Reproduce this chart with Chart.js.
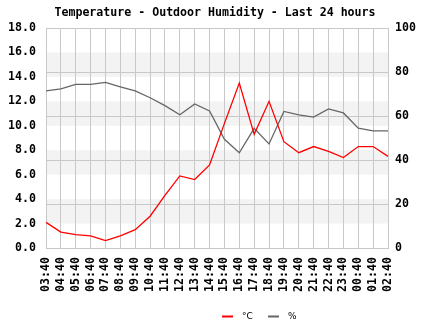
<!DOCTYPE html>
<html>
<head>
<meta charset="utf-8">
<script src="https://cdn.jsdelivr.net/npm/chart.js@4/dist/chart.umd.min.js"></script>
<style>
    body { margin: 0; background: #fff; }
    canvas { display: block; }
</style>
</head>
<body>
<canvas id="tempChart" width="430" height="330"></canvas>
<script>
// hourly samples, last 24 hours
const hours = ['03:40', '04:40', '05:40', '06:40', '07:40', '08:40', '09:40', '10:40',
    '11:40', '12:40', '13:40', '14:40', '15:40', '16:40', '17:40', '18:40', '19:40',
    '20:40', '21:40', '22:40', '23:40', '00:40', '01:40', '02:40'];

const temperature = [2.1, 1.3, 1.1, 1.0, 0.6, 1.0, 1.5, 2.6, 4.3, 5.9, 5.6, 6.8,
    10.2, 13.5, 9.3, 12.0, 8.7, 7.8, 8.3, 7.9, 7.4, 8.3, 8.3, 7.5];

const humidity = [71.4, 72.3, 74.4, 74.4, 75.3, 73.3, 71.4, 68.3, 64.7, 60.6, 65.5, 62.3,
    49.4, 43.3, 54.4, 47.3, 62.1, 60.5, 59.5, 63.2, 61.4, 54.5, 53.2, 53.2];

const seriesNames = ['°C', '%'];

const fontFamily = '"DejaVu Sans Mono", "Liberation Mono", monospace';
const gridColor = '#c8c8c8';

// grey bands between every other temperature tick
const bandPlugin = {
    id: 'bands',
    beforeDraw(chart) {
        const { ctx, chartArea, scales } = chart;
        const ticks = scales.y.ticks;
        ctx.save();
        ctx.fillStyle = '#f3f3f3';
        for (let i = 1; i < ticks.length - 1; i += 2) {
            const y1 = scales.y.getPixelForValue(ticks[i].value);
            const y2 = scales.y.getPixelForValue(ticks[i + 1].value);
            ctx.fillRect(chartArea.left, y2, chartArea.right - chartArea.left, y1 - y2);
        }
        ctx.restore();
    }
};

// small legend under the plot, offset right like the original
const legendPlugin = {
    id: 'bottomLegend',
    afterDraw(chart) {
        const ctx = chart.ctx;
        const y = 316.5;
        let x = 222;
        ctx.save();
        ctx.font = '9px "DejaVu Sans", sans-serif';
        ctx.textBaseline = 'middle';
        chart.data.datasets.forEach((ds, i) => {
            ctx.strokeStyle = ds.borderColor;
            ctx.lineWidth = 2;
            ctx.beginPath();
            ctx.moveTo(x, y);
            ctx.lineTo(x + 11, y);
            ctx.stroke();
            ctx.fillStyle = '#000';
            ctx.fillText(ds.label, x + 20, y);
            x += 46;
        });
        ctx.restore();
    }
};

const ctx = document.getElementById('tempChart').getContext('2d');

new Chart(ctx, {
    type: 'line',
    data: {
        labels: hours,
        datasets: [{
            label: seriesNames[0],
            data: temperature,
            yAxisID: 'y',
            borderColor: '#ff0000',
            borderWidth: 1.3,
            pointRadius: 0,
            tension: 0
        }, {
            label: seriesNames[1],
            data: humidity,
            yAxisID: 'y2',
            borderColor: '#666666',
            borderWidth: 1.3,
            pointRadius: 0,
            tension: 0
        }]
    },
    options: {
        responsive: false,
        animation: false,
        devicePixelRatio: 1,
        layout: { padding: 0 },
        plugins: {
            legend: { display: false },
            tooltip: { enabled: false },
            title: {
                display: true,
                text: 'Temperature - Outdoor Humidity - Last 24 hours',
                color: '#000',
                font: { family: fontFamily, size: 11.6, weight: 'bold', lineHeight: 1.2 },
                padding: { top: 6.5, bottom: 7.6 }
            }
        },
        scales: {
            x: {
                offset: false,
                grid: { color: gridColor, drawTicks: false },
                border: { color: gridColor },
                ticks: {
                    color: '#000',
                    autoSkip: false,
                    maxRotation: 90,
                    minRotation: 90,
                    padding: 9,
                    font: { family: fontFamily, size: 11.6, weight: 'bold' }
                },
                afterFit(scale) { scale.height = 82; }
            },
            y: {
                position: 'left',
                min: 0,
                max: 18,
                grid: { display: false, drawTicks: false },
                border: { color: gridColor },
                ticks: {
                    stepSize: 2,
                    color: '#000',
                    padding: 10,
                    font: { family: fontFamily, size: 11.6, weight: 'bold' },
                    callback: v => v.toFixed(1)
                },
                afterFit(scale) { scale.width = 46; }
            },
            y2: {
                position: 'right',
                min: 0,
                max: 100,
                grid: { color: gridColor, drawTicks: false },
                border: { color: gridColor },
                ticks: {
                    stepSize: 20,
                    color: '#000',
                    padding: 7,
                    font: { family: fontFamily, size: 11.6, weight: 'bold' }
                },
                afterFit(scale) { scale.width = 42; }
            }
        }
    },
    plugins: [bandPlugin, legendPlugin]
});
</script>
</body>
</html>
